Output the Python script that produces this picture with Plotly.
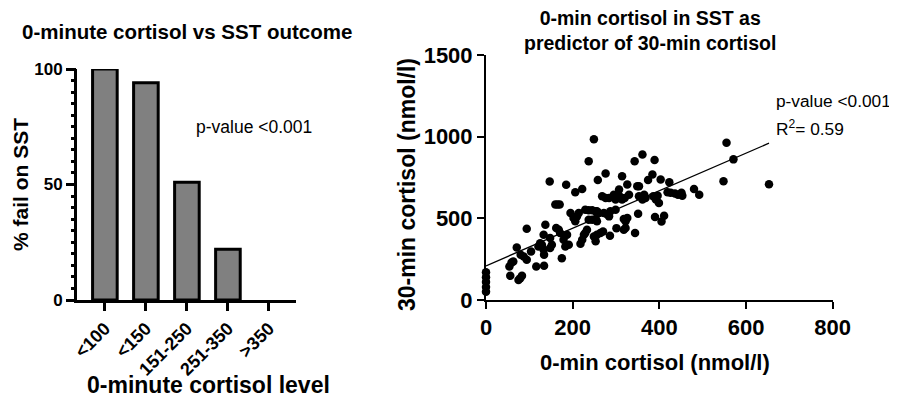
import plotly.graph_objects as go

# ---------------- Data ----------------
bar_categories = ["<100", "<150", "151-250", "251-350", ">350"]
bar_values = [100, 94, 51, 22, 0]
bar_minor_ticks = list(range(0, 101, 5))

cortisol_0min = [
    0, 0, 0, 0, 0,
    54, 59, 63, 56, 75, 79, 83, 71, 80, 87, 94, 94, 104, 116, 121, 125, 129, 133, 134,
    137, 133, 134, 147, 148, 152, 148, 160, 165, 170, 162, 168, 171, 175, 179, 183, 187,
    191, 185, 195, 202, 206, 210, 214, 206, 222, 218, 222, 226, 229, 233, 229, 237, 245,
    253, 256, 260, 237, 249, 249, 253, 256, 264, 237, 245, 253, 256, 258, 268, 276, 284,
    276, 272, 280, 284, 287, 270, 286, 295, 299, 307, 299, 301, 307, 314, 320, 314, 318,
    322, 326, 318, 322, 326, 330, 343, 344, 349, 353, 353, 351, 361, 361, 365, 368, 374,
    384, 389, 386, 392, 396, 390, 399, 403, 405, 411, 423, 419, 426, 436, 443, 451, 453,
    480, 492, 548, 555, 571, 653,
]
cortisol_30min = [
    170, 140, 110, 80, 50,
    205, 229, 236, 148, 123, 133, 148, 322, 277, 266, 246, 436, 297, 205, 328, 348, 338, 307, 277,
    461, 400, 209, 725, 379, 338, 318, 584, 584, 584, 441, 430, 410, 256, 369, 328, 400,
    338, 705, 533, 502, 482, 512, 533, 660, 680, 344, 369, 400, 410, 430, 553, 549, 549,
    543, 543, 533, 850, 984, 389, 359, 400, 410, 492, 492, 496, 482, 734, 635, 625, 625,
    775, 533, 523, 512, 543, 420, 393, 645, 615, 639, 553, 440, 676, 615, 625, 758, 496,
    482, 502, 430, 441, 707, 645, 850, 410, 697, 697, 635, 528, 891, 615, 645, 625, 734,
    768, 857, 635, 615, 639, 508, 594, 738, 481, 516, 721, 660, 656, 652, 645, 656, 639,
    680, 645, 727, 963, 861, 709,
]

fit_intercept = 209
fit_slope = 1.15
fit_x = [0, max(cortisol_0min)]
fit_y = [fit_intercept + fit_slope * v for v in fit_x]

# ---------------- Figure ----------------
# The page body has an 8px margin, so the figure is sized to fit inside the window
OFF = 8
W, H = 897 - OFF, 400 - OFF
FONT = "Liberation Sans, Arial, Helvetica, sans-serif"

def px(x):
    return (x - OFF) / W

def py(y):
    return 1 - (y - OFF) / H

fig = go.Figure()

fig.add_trace(go.Bar(
    x=bar_categories, y=bar_values, width=0.6,
    marker=dict(color="#808080",
                line=dict(color="black", width=[3 if v > 0 else 0 for v in bar_values])),
    xaxis="x", yaxis="y", showlegend=False,
))
# empty trace that carries the minor-tick overlay axis
fig.add_trace(go.Scatter(x=[], y=[], xaxis="x", yaxis="y3", showlegend=False,
                         hoverinfo="skip"))

fig.add_trace(go.Scatter(
    x=cortisol_0min, y=cortisol_30min, mode="markers",
    marker=dict(color="black", size=8.5),
    xaxis="x2", yaxis="y2", showlegend=False, cliponaxis=False,
))

fig.add_trace(go.Scatter(
    x=fit_x, y=fit_y, mode="lines",
    line=dict(color="black", width=1.3),
    xaxis="x2", yaxis="y2", showlegend=False,
))

axis_common = dict(showgrid=False, zeroline=False, showline=True, linecolor="black",
                   ticks="outside", tickcolor="black", automargin=False)

fig.update_layout(
    width=W, height=H,
    margin=dict(l=0, r=0, t=0, b=0, autoexpand=False),
    paper_bgcolor="white", plot_bgcolor="white",
    font=dict(family=FONT, color="black"),
    xaxis=dict(domain=[px(77), px(296)], range=[-0.68, 4.66], type="category",
               tickangle=-45, ticklen=8, tickwidth=2.5, linewidth=3,
               tickfont=dict(size=18, family=FONT, weight="bold"),
               anchor="y", **axis_common),
    yaxis=dict(domain=[py(300), py(69)], range=[0, 100], tickmode="linear", tick0=0, dtick=50,
               ticklen=8, tickwidth=2.5, linewidth=3,
               tickfont=dict(size=17, family=FONT, weight="bold"),
               anchor="x", **axis_common),
    yaxis3=dict(overlaying="y", anchor="x", side="left", range=[0, 100],
                tickmode="array", tickvals=bar_minor_ticks, ticks="outside", ticklen=5,
                tickwidth=2.5, tickcolor="black", showticklabels=False, showline=False,
                showgrid=False, zeroline=False, automargin=False),
    xaxis2=dict(domain=[px(486), px(832.7)], range=[0, 800], tickmode="linear", tick0=0, dtick=200,
                ticklen=7, tickwidth=2, linewidth=2,
                tickfont=dict(size=22, family=FONT, weight="bold"),
                anchor="y2", **axis_common),
    yaxis2=dict(domain=[py(300), py(55)], range=[0, 1500], tickmode="linear", tick0=0, dtick=500,
                ticklen=7, tickwidth=2, linewidth=2,
                tickfont=dict(size=22, family=FONT, weight="bold"),
                anchor="x2", **axis_common),
)

ann = []
# left chart texts
ann.append(dict(text="<b>0-minute cortisol vs SST outcome</b>", x=px(187), y=py(32),
                font=dict(size=20.5)))
ann.append(dict(text="<b>% fail on SST</b>", x=px(21), y=py(185), textangle=-90,
                font=dict(size=21)))
ann.append(dict(text="<b>0-minute cortisol level</b>", x=px(208), y=py(385),
                font=dict(size=23)))
ann.append(dict(text="p-value <0.001", x=px(194), y=py(127), xanchor="left",
                font=dict(size=17.5)))
# right chart texts
ann.append(dict(text="<b>0-min cortisol in SST as<br>predictor of 30-min cortisol</b>",
                x=px(650), y=py(30), font=dict(size=19.5)))
ann.append(dict(text="<b>30-min cortisol (nmol/l)</b>", x=px(407), y=py(185), textangle=-90,
                font=dict(size=23)))
ann.append(dict(text="<b>0-min cortisol (nmol/l)</b>", x=px(655), y=py(362),
                font=dict(size=22)))
ann.append(dict(text="p-value <0.001", x=px(774), y=py(101), xanchor="left",
                font=dict(size=17.3)))
ann.append(dict(text="R<sup>2</sup>= 0.59", x=px(774), y=py(128), xanchor="left",
                font=dict(size=17.3)))

for a in ann:
    a.setdefault("xanchor", "center")
    a.update(xref="paper", yref="paper", yanchor="middle", showarrow=False,
             font=dict(family=FONT, color="black", **a["font"]))
fig.update_layout(annotations=ann)

fig.write_html("out.html")
